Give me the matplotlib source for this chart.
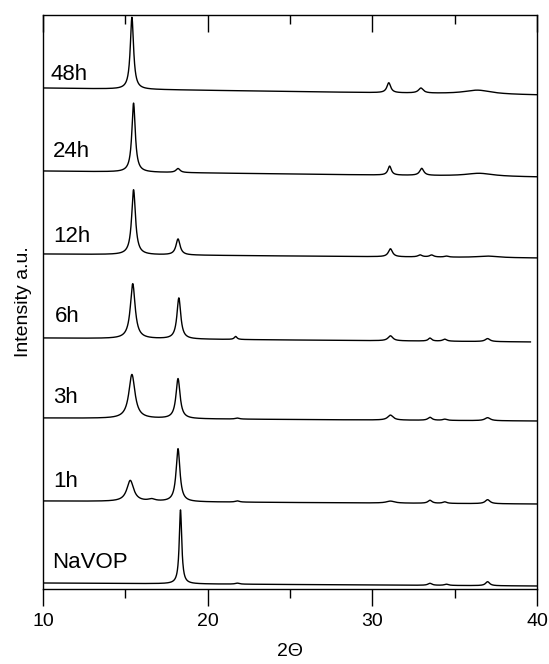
import numpy as np
import matplotlib.pyplot as plt
from matplotlib.ticker import MultipleLocator

plt.rcParams['font.family'] = ['Liberation Sans', 'DejaVu Sans']

# sample names, bottom to top
samples = ["NaVOP", "1h", "3h", "6h", "12h", "24h", "48h"]

# baseline level at 2theta = 10 and at the right end (arbitrary intensity units)
base_left = [6, 88, 171, 251, 335, 418, 501]
base_right = [3, 85, 168, 247, 331, 412, 494]
x_end = [40, 40, 40, 39.6, 40, 40, 40]

# peaks per sample: (position 2theta, height, FWHM)
peaks = [
    [(18.35, 74, 0.18), (21.8, 1, 0.3), (33.5, 2, 0.3), (34.5, 1.2, 0.3), (37.0, 4, 0.3)],
    [(15.3, 21, 0.5), (16.6, 2, 0.5), (18.2, 53, 0.28), (21.8, 1.2, 0.3), (31.1, 2, 0.6),
     (33.5, 3, 0.3), (34.4, 1.5, 0.3), (37.0, 4, 0.35)],
    [(15.4, 44, 0.45), (18.2, 40, 0.3), (21.8, 1, 0.3), (31.1, 5, 0.4), (33.5, 3, 0.3),
     (34.4, 1.2, 0.3), (37.0, 3, 0.4)],
    [(15.45, 55, 0.35), (18.25, 41, 0.28), (21.7, 3, 0.2), (31.1, 5, 0.35), (33.5, 3, 0.25),
     (34.4, 2, 0.3), (37.0, 3, 0.35)],
    [(15.5, 65, 0.28), (18.2, 16, 0.3), (31.1, 8, 0.3), (32.9, 2, 0.3), (33.6, 2, 0.3),
     (34.5, 1, 0.3), (37.0, 1.5, 1.5)],
    [(15.5, 69, 0.25), (18.2, 4, 0.3), (31.05, 9, 0.25), (33.0, 7, 0.3), (36.5, 3, 2.0)],
    [(15.4, 72, 0.24), (31.0, 10, 0.28), (32.95, 5, 0.35), (36.4, 4, 2.0)],
]

# label positions (2theta, intensity of text baseline)
label_x = [10.55, 10.6, 10.6, 10.7, 10.6, 10.6, 10.45]
label_y = [21, 102, 186, 267, 347, 432, 509]


def pattern(x, b0, b1, plist):
    y = b0 + (b1 - b0) * (x - 10) / 30
    for pos, h, w in plist:
        g = (w / 2) ** 2
        y = y + h * g / ((x - pos) ** 2 + g)
    return y


fig = plt.figure(figsize=(5.49, 6.64), dpi=100)
ax = fig.add_axes([43 / 549, 1 - 589 / 664, 494 / 549, 574 / 664])

for i, name in enumerate(samples):
    x = np.linspace(10, x_end[i], 3000)
    ax.plot(x, pattern(x, base_left[i], base_right[i], peaks[i]), color='black', lw=1.0)
    ax.text(label_x[i], label_y[i], name, fontsize=16, va='baseline', ha='left')

ax.set_xlim(10, 40)
ax.set_ylim(0, 574)
ax.xaxis.set_major_locator(MultipleLocator(10))
ax.xaxis.set_minor_locator(MultipleLocator(5))
ax.set_yticks([])
ax.tick_params(axis='x', which='major', direction='out', length=12, width=1,
               labelsize=14, pad=5, top=True)
ax.tick_params(axis='x', which='minor', direction='out', length=6.5, width=1, top=True)
# top ticks point into the plot
for t in ax.xaxis.get_major_ticks() + ax.xaxis.get_minor_ticks():
    t.tick2line.set_marker(3)
ax.set_xlabel("2Θ", fontsize=14, labelpad=10)
ax.set_ylabel("Intensity a.u.", fontsize=14, labelpad=8)
for s in ax.spines.values():
    s.set_linewidth(1)

fig.savefig("out.png", dpi=100)
